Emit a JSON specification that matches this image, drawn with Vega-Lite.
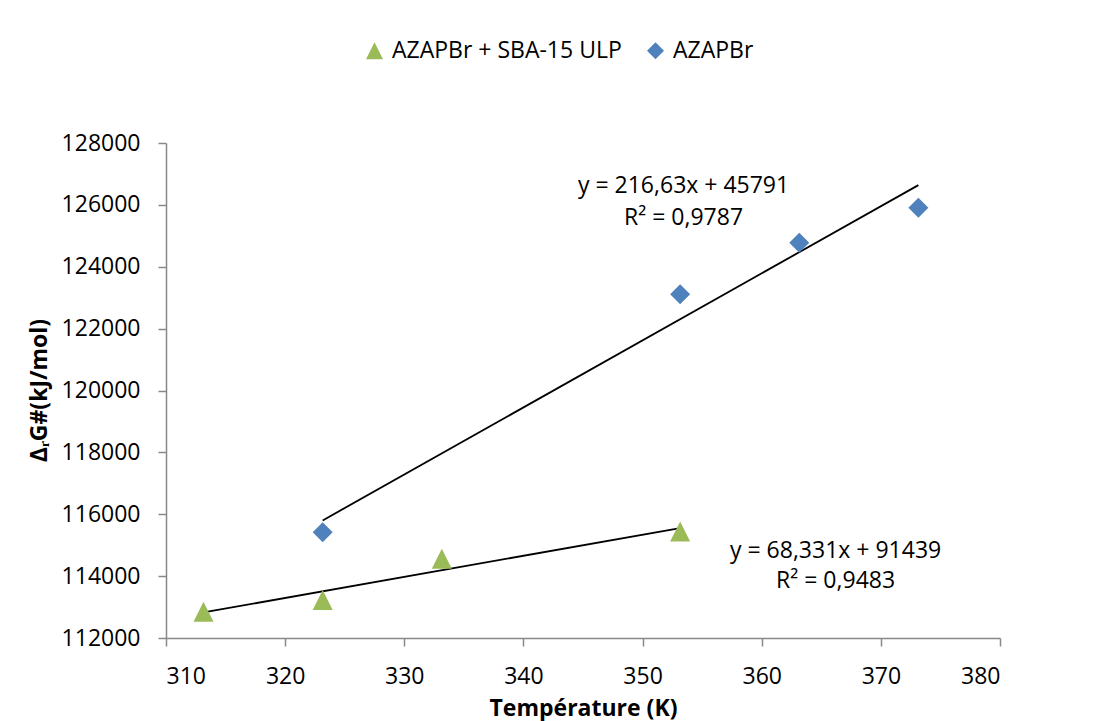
{
  "$schema": "https://vega.github.io/schema/vega-lite/v6.json",
  "width": 834,
  "height": 495,
  "autosize": {"type": "none"},
  "padding": {"left": 166, "top": 143, "right": 97, "bottom": 83},
  "background": "white",
  "config": {
    "font": "Open Sans",
    "view": {"stroke": null},
    "axis": {
      "grid": false,
      "domainColor": "#888888",
      "domainWidth": 1.5,
      "tickColor": "#888888",
      "tickWidth": 1.5,
      "tickSize": 8,
      "labelFont": "Open Sans",
      "labelFontSize": 23,
      "labelColor": "#000000",
      "titleFont": "Open Sans",
      "titleFontSize": 23,
      "titleFontWeight": "bold",
      "titleColor": "#000000"
    },
    "legend": {
      "labelFont": "Open Sans",
      "labelFontSize": 23,
      "labelColor": "#000000",
      "labelLimit": 0,
      "padding": 0
    }
  },
  "datasets": {
    "points": [
      {"series": "AZAPBr + SBA-15 ULP", "T": 313.15, "G": 112850},
      {"series": "AZAPBr + SBA-15 ULP", "T": 323.15, "G": 113230},
      {"series": "AZAPBr + SBA-15 ULP", "T": 333.15, "G": 114560},
      {"series": "AZAPBr + SBA-15 ULP", "T": 353.15, "G": 115440},
      {"series": "AZAPBr", "T": 323.15, "G": 115416},
      {"series": "AZAPBr", "T": 353.15, "G": 123110},
      {"series": "AZAPBr", "T": 363.15, "G": 124778},
      {"series": "AZAPBr", "T": 373.15, "G": 125909}
    ],
    "labels": [
      {"T": 353.44, "G": 126384, "label": "y = 216,63x + 45791"},
      {"T": 353.44, "G": 125350, "label": "R² = 0,9787"},
      {"T": 366.2, "G": 114586, "label": "y = 68,331x + 91439"},
      {"T": 366.2, "G": 113616, "label": "R² = 0,9483"}
    ]
  },
  "layer": [
    {
      "data": {"name": "points"},
      "transform": [
        {"regression": "G", "on": "T", "groupby": ["series"], "method": "linear"}
      ],
      "mark": {"type": "line", "color": "#000000", "strokeWidth": 1.8},
      "encoding": {
        "x": {"field": "T", "type": "quantitative"},
        "y": {"field": "G", "type": "quantitative"},
        "detail": {"field": "series"}
      }
    },
    {
      "data": {"name": "points"},
      "mark": {"type": "point", "filled": true, "opacity": 1, "size": 400},
      "encoding": {
        "x": {
          "field": "T",
          "type": "quantitative",
          "scale": {"domain": [310, 380], "nice": false, "zero": false},
          "axis": {
            "title": "Température (K)",
            "values": [310, 320, 330, 340, 350, 360, 370, 380],
            "format": "d",
            "labelPadding": 19,
            "titleY": 77,
            "titleBaseline": "alphabetic"
          }
        },
        "y": {
          "field": "G",
          "type": "quantitative",
          "scale": {"domain": [112000, 128000], "nice": false, "zero": false},
          "axis": {
            "title": "ΔᵣG#(kJ/mol)",
            "values": [112000, 114000, 116000, 118000, 120000, 122000, 124000, 126000, 128000],
            "format": "d",
            "labelPadding": 18,
            "titleX": -127,
            "titleY": 247,
            "titleAngle": 270,
            "titleBaseline": "middle",
            "titleAlign": "center"
          }
        },
        "color": {
          "field": "series",
          "type": "nominal",
          "scale": {"domain": ["AZAPBr + SBA-15 ULP", "AZAPBr"], "range": ["#9BBB59", "#4F81BD"]},
          "legend": {
            "title": null,
            "orient": "none",
            "direction": "horizontal",
            "legendX": 197,
            "legendY": -104,
            "symbolSize": 289,
            "symbolOpacity": 1,
            "labelOffset": 6,
            "labelLimit": 0,
            "columnPadding": 22
          }
        },
        "shape": {
          "field": "series",
          "type": "nominal",
          "scale": {"domain": ["AZAPBr + SBA-15 ULP", "AZAPBr"], "range": ["M0,-1L1,1L-1,1Z", "diamond"]}
        }
      }
    },
    {
      "data": {"name": "labels"},
      "mark": {"type": "text", "fontSize": 23, "align": "center", "baseline": "alphabetic", "color": "#000000", "font": "Open Sans"},
      "encoding": {
        "x": {"field": "T", "type": "quantitative"},
        "y": {"field": "G", "type": "quantitative"},
        "text": {"field": "label"}
      }
    }
  ]
}
